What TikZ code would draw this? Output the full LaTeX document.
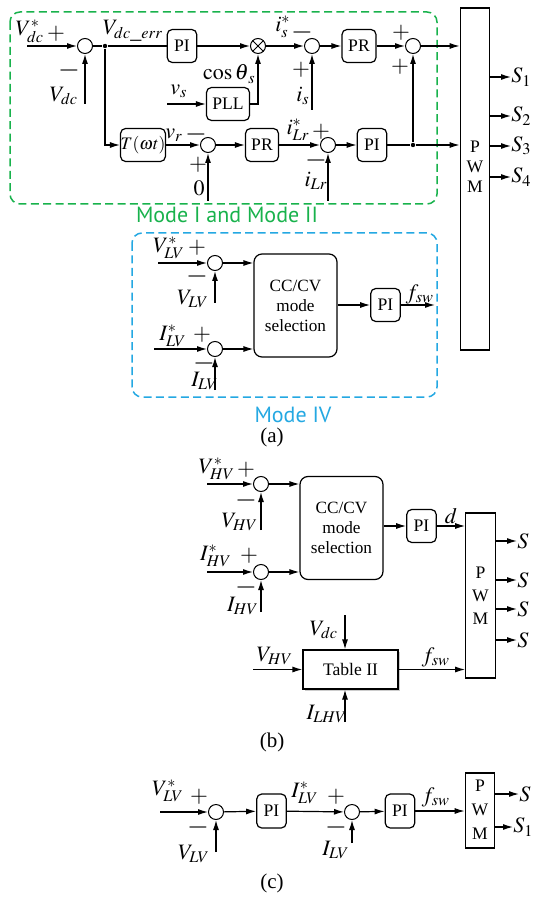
\documentclass[tikz,border=0pt]{standalone}
\usepackage{mathptmx}
\usepackage{fontspec}
\setmainfont{Liberation Serif}
\newfontfamily\modefont{PT Sans}
\usetikzlibrary{arrows.meta,positioning,calc,shadows}
\definecolor{modegreen}{RGB}{24,178,76}
\definecolor{modeblue}{RGB}{36,168,226}
\tikzset{
  cbbox/.style={draw, rounded corners=2.5pt, line width=0.6pt, fill=white, align=center, inner sep=0pt, minimum width=14.75pt, minimum height=16.5pt, font=\fontsize{8.8}{10}\selectfont},
  cbsel/.style={cbbox, rounded corners=4pt, minimum width=41.5pt, minimum height=51.5pt, font=\fontsize{8.6}{10}\selectfont},
  cbpwm/.style={draw, line width=0.6pt, minimum width=14.75pt, inner sep=0pt},
  cbpwmtxt/.style={align=center, inner sep=0pt, font=\fontsize{8.8}{#1}\selectfont},
  cbsum/.style={draw, circle, line width=0.5pt, minimum size=7.5pt, inner sep=0pt, fill=white},
  cbmul/.style={cbsum, path picture={\draw[line width=0.5pt] (path picture bounding box.north west) -- (path picture bounding box.south east) (path picture bounding box.south west) -- (path picture bounding box.north east);}},
  cbdot/.style={circle, fill, inner sep=0pt, minimum size=2.2pt},
  cbline/.style={-{Latex[length=5pt,width=3pt]}, line width=0.6pt},
  cbwire/.style={line width=0.6pt},
  cblab/.style={inner sep=0pt, font=\fontsize{11}{12}\selectfont},
  cbsign/.style={inner sep=0pt, font=\fontsize{11.5}{12}\selectfont},
  cbminus/.style={inner sep=0pt, font=\fontsize{14}{14}\selectfont},
  cbmode/.style={dash pattern=on 4pt off 2.2pt, line width=0.75pt, rounded corners=5pt},
  cbmodetxt/.style={inner sep=0pt, font=\modefont\fontsize{11}{12}\selectfont},
  cbcap/.style={inner sep=0pt, font=\fontsize{10.5}{12}\selectfont}
}
\begin{document}
\begin{tikzpicture}[x=0.5pt,y=-0.5pt]
  \useasboundingbox (0,0) rectangle (532,897);

  % (a) Mode I and Mode II
  \draw[cbmode, draw=modegreen] (10,12) rectangle (437,204);
  \node[cbmodetxt, text=modegreen] (modeA) at (227,215) {Mode I and Mode II};
  \draw[cbmode, draw=modeblue] (132,233) rectangle (437,397);
  \node[cbmodetxt, text=modeblue] (modeB) at (293,415) {Mode IV};
  \node[cbcap] (capA) at (272,437) {(a)};

  \coordinate (vdcin) at (27,46);
  \node[cbsum] (s1) at (85,46) {};
  \coordinate (vdcfb) at (85,104);
  \node[cbdot] (err) at (105,46) {};
  \node[cbbox] (pi1) at (182,46) {PI};
  \node[cbmul] (mul) at (258,46) {};
  \node[cbbox, minimum width=21.5pt] (pll) at (228,104) {PLL};
  \coordinate (vsin) at (167,104);
  \node[cbsum] (s5) at (312,46) {};
  \coordinate (isfb) at (312,110);
  \node[cbbox, minimum width=17pt] (pr1) at (359,46) {PR};
  \node[cbsum] (s4) at (413,46) {};

  \node[cbbox, minimum width=21pt] (tf) at (143,145) {$T(\omega t)$};
  \node[cbsum] (s2) at (208,145) {};
  \coordinate (zerofb) at (208,201);
  \node[cbbox, minimum width=16.5pt] (pr2) at (262,145) {PR};
  \node[cbsum] (s3) at (328,145) {};
  \coordinate (ilrfb) at (328,201);
  \node[cbbox] (pi2) at (372,145) {PI};
  \node[cbdot] (jn) at (413,145) {};

  \node[cbpwm, minimum height=171pt] (pwmA) at (475,179) {};
  \node[cbpwmtxt=10] (pwmAtxt) at (475,167) {P\\W\\M};

  \node[cblab] (lvdcs) at (30,31) {$V_{dc}^*$};
  \node[cbsign] (p1) at (56,34) {$+$};
  \node[cbminus] (m1) at (69,71) {$-$};
  \node[cblab] (lvdc) at (64,96) {$V_{dc}$};
  \node[cblab] (lerr) at (133,31) {$V_{dc\_err}$};
  \node[cblab, anchor=east] (lcos) at (256,74) {$\cos\theta_{\kern1pt s}$};
  \node[cblab] (lvs) at (179,91) {$v_s$};
  \node[cblab] (lvr) at (174,135) {$v_r$};
  \node[cbminus] (m2) at (196,135) {$-$};
  \node[cbsign] (p2) at (198,165) {$+$};
  \node[cblab] (lzero) at (199,188) {$0$};
  \node[cblab] (liss) at (283,27) {$i_s^*$};
  \node[cbminus] (m5) at (302,33) {$-$};
  \node[cbsign] (p5) at (301,70) {$+$};
  \node[cblab] (lis) at (303,96) {$i_s$};
  \node[cbsign] (p4a) at (401,33) {$+$};
  \node[cbsign] (p4b) at (400,67) {$+$};
  \node[cblab] (lilrs) at (298,130) {$i_{Lr}^*$};
  \node[cbsign] (p3) at (321,132) {$+$};
  \node[cbminus] (m3) at (316,161) {$-$};
  \node[cblab] (lilr) at (316,181) {$i_{Lr}$};

  \draw[cbline] (vdcin) -- (s1);
  \draw[cbline] (vdcfb) -- (s1);
  \draw[cbwire] (s1) -- (err);
  \draw[cbwire] (err) -- (pi1);
  \draw[cbline] (pi1) -- (mul);
  \draw[cbline] (vsin) -- (pll);
  \draw[cbline] (pll) -| (mul);
  \draw[cbline] (mul) -- (s5);
  \draw[cbline] (isfb) -- (s5);
  \draw[cbline] (s5) -- (pr1);
  \draw[cbline] (pr1) -- (s4);
  \draw[cbline] (s4) -- (s4 -| pwmA.west);
  \draw[cbline] (err) |- (tf);
  \draw[cbline] (tf) -- (s2);
  \draw[cbline] (zerofb) -- (s2);
  \draw[cbline] (s2) -- (pr2);
  \draw[cbline] (pr2) -- (s3);
  \draw[cbline] (ilrfb) -- (s3);
  \draw[cbline] (s3) -- (pi2);
  \draw[cbwire] (pi2) -- (jn);
  \draw[cbline] (jn) -- (jn -| pwmA.west);
  \draw[cbline] (jn) -- (s4);

  \foreach \n/\y in {1/77,2/116,3/146,4/177}{
    \node[cblab, anchor=west] (sA\n) at (511,\y) {$S_{\n}$};
    \draw[cbline] (pwmA.east |- sA\n) -- (sA\n.west);
  }

  % (a) Mode IV
  \coordinate (vlvin) at (158,263);
  \node[cbsum] (sv) at (215,263) {};
  \coordinate (vlvfb) at (215,303);
  \coordinate (ilvin) at (154,349);
  \node[cbsum] (si) at (215,349) {};
  \coordinate (ilvfb) at (215,390);
  \node[cbsel] (selA) at (295.5,305.5) {CC/CV\\mode\\selection};
  \node[cbbox] (piA) at (385.5,305) {PI};
  \coordinate (fswA) at (435,305);

  \node[cblab] (lvlvs) at (169,248) {$V_{LV}^*$};
  \node[cbsign] (pv) at (197,248) {$+$};
  \node[cbminus] (mv) at (197,277) {$-$};
  \node[cblab] (lvlv) at (193,299) {$V_{LV}$};
  \node[cblab] (lilvs) at (173,336) {$I_{LV}^*$};
  \node[cbsign] (pi) at (202,335) {$+$};
  \node[cbminus] (mi) at (204,364) {$-$};
  \node[cblab] (lilv) at (205,381) {$I_{LV}$};
  \node[cblab] (lfswA) at (420,294) {$f_{sw}$};

  \draw[cbline] (vlvin) -- (sv);
  \draw[cbline] (vlvfb) -- (sv);
  \draw[cbline] (sv) -- (sv -| selA.west);
  \draw[cbline] (ilvin) -- (si);
  \draw[cbline] (ilvfb) -- (si);
  \draw[cbline] (si) -- (si -| selA.west);
  \draw[cbline] (selA.east |- piA) -- (piA);
  \draw[cbline] (piA) -- (fswA);

  % (b)
  \coordinate (vhvin) at (207,484);
  \node[cbsum] (sb1) at (261,484) {};
  \coordinate (vhvfb) at (261,530);
  \coordinate (ihvin) at (207,572);
  \node[cbsum] (sb2) at (261,572) {};
  \coordinate (ihvfb) at (261,612);
  \node[cbsel] (selB) at (341.5,528) {CC/CV\\mode\\selection};
  \node[cbbox] (piB) at (421.5,526) {PI};
  \node[cbpwm, minimum height=82.5pt] (pwmB) at (480.5,595.5) {};
  \node[cbpwmtxt=11.6] (pwmBtxt) at (480.5,596) {P\\W\\M};
  \node[draw, line width=0.6pt, fill=white, inner sep=0pt, minimum width=47.5pt, minimum height=19.5pt,
    font=\fontsize{8.8}{10}\selectfont, drop shadow={shadow xshift=1.1pt, shadow yshift=-1.1pt, fill=black!40}] (tab) at (350.5,669.5) {Table II};
  \coordinate (vdctop) at (345,615);
  \coordinate (ilhvbot) at (345,722);
  \coordinate (vhvtab) at (253,669.5);

  \node[cblab] (lvhvs) at (217,469) {$V_{HV}^*$};
  \node[cbsign] (pb1) at (246,470) {$+$};
  \node[cbminus] (mb1) at (246,500) {$-$};
  \node[cblab] (lvhv) at (240,522) {$V_{HV}$};
  \node[cblab] (lihvs) at (216,556) {$I_{HV}^*$};
  \node[cbsign] (pb2) at (249,556) {$+$};
  \node[cbminus] (mb2) at (246,587) {$-$};
  \node[cblab] (lihv) at (243,606) {$I_{HV}$};
  \node[cblab] (ld) at (451,516) {$d$};
  \node[cblab] (lvdcb) at (324,630) {$V_{dc}$};
  \node[cblab] (lvhvb) at (275,656) {$V_{HV}$};
  \node[cblab] (lfswB) at (436,657) {$f_{sw}$};
  \node[cblab] (lilhv) at (327,714) {$I_{LHV}$};
  \node[cbcap] (capB) at (272,742) {(b)};

  \draw[cbline] (vhvin) -- (sb1);
  \draw[cbline] (vhvfb) -- (sb1);
  \draw[cbline] (sb1) -- (sb1 -| selB.west);
  \draw[cbline] (ihvin) -- (sb2);
  \draw[cbline] (ihvfb) -- (sb2);
  \draw[cbline] (sb2) -- (sb2 -| selB.west);
  \draw[cbline] (selB.east |- piB) -- (piB);
  \draw[cbline] (piB) -- (piB -| pwmB.west);
  \draw[cbline] (vdctop) -- (tab.north -| vdctop);
  \draw[cbline] (ilhvbot) -- (tab.south -| ilhvbot);
  \draw[cbline] (vhvtab) -- (tab);
  \draw[cbline] (tab) -- (tab -| pwmB.west);

  \foreach \n/\y in {1/541,2/580,3/609,4/640}{
    \node[cblab, anchor=west] (sB\n) at (517,\y) {$S$};
    \draw[cbline] (pwmB.east |- sB\n) -- (sB\n.west);
  }

  % (c)
  \coordinate (vlvinc) at (160,812);
  \node[cbsum] (sc1) at (216,812) {};
  \coordinate (vlvfbc) at (216,852);
  \node[cbbox, minimum height=17pt] (pic1) at (271.5,811) {PI};
  \node[cbsum] (sc2) at (352,812) {};
  \coordinate (ilvfbc) at (352,843);
  \node[cbbox, minimum height=17pt] (pic2) at (400,811) {PI};
  \node[cbpwm, minimum height=37.5pt] (pwmC) at (480,810.5) {};
  \node[cbpwmtxt=12] (pwmCtxt) at (480,810) {P\\W\\M};

  \node[cblab] (lvlvsc) at (168,791) {$V_{LV}^*$};
  \node[cbsign] (pc1) at (199,797) {$+$};
  \node[cbminus] (mc1) at (198,827) {$-$};
  \node[cblab] (lvlvc) at (194,854) {$V_{LV}$};
  \node[cblab] (lilvsc) at (305,793) {$I_{LV}^*$};
  \node[cbsign] (pc2) at (336,797) {$+$};
  \node[cbminus] (mc2) at (336,827) {$-$};
  \node[cblab] (lilvc) at (336,850) {$I_{LV}$};
  \node[cblab] (lfswC) at (436,797) {$f_{sw}$};
  \node[cbcap] (capC) at (272,883) {(c)};
  \node[cblab, anchor=west] (sC2) at (519,794) {$S$};
  \node[cblab, anchor=west] (sC1) at (513,827) {$S_1$};

  \draw[cbline] (vlvinc) -- (sc1);
  \draw[cbline] (vlvfbc) -- (sc1);
  \draw[cbline] (sc1) -- (pic1);
  \draw[cbline] (pic1) -- (sc2);
  \draw[cbline] (ilvfbc) -- (sc2);
  \draw[cbline] (sc2) -- (pic2);
  \draw[cbline] (pic2) -- (pic2 -| pwmC.west);
  \draw[cbline] (pwmC.east |- sC2) -- (sC2.west);
  \draw[cbline] (pwmC.east |- sC1) -- (sC1.west);
\end{tikzpicture}
\end{document}
